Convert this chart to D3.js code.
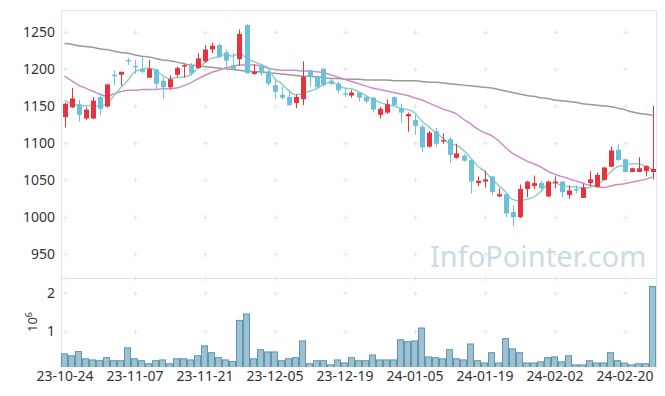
<!DOCTYPE html>
<html>
<head>
<meta charset="utf-8">
<script src="https://cdn.jsdelivr.net/npm/d3@7"></script>
<style>
  body { margin: 0; background: #fff; }
  text { font-family: "Noto Sans", "DejaVu Sans", sans-serif; }
</style>
</head>
<body>
<div id="chart"></div>
<script>
/* price data, one entry per trading day */
const opens  = [1135,1148,1152,1133,1133,1162,1149,1192,1192,1212,1204,1200,1188,1199,1184,1175,1192,1203,1204,1201,
                1210,1226,1232,1222,1205,1213,1259,1193,1203,1196,1178,1165,1162,1154,1159,1198,1190,1200,1184,1180,
                1167,1164,1168,1162,1161,1138,1141,1162,1147,1136,1131,1122,1095,1116,1102,1105,1080,1083,1077,1046,
                1048,1055,1028,1031,1007,1000,1038,1042,1046,1028,1046,1048,1030,1038,1026,1046,1041,1050,1068,1091,
                1078,1061,1061,1062,1061];
const highs  = [1154,1174,1158,1148,1162,1166,1179,1198,1196,1215,1212,1215,1212,1200,1188,1191,1203,1206,1208,1221,
                1232,1235,1234,1226,1221,1253,1260,1206,1207,1198,1187,1176,1172,1166,1210,1199,1191,1201,1186,1183,
                1174,1171,1169,1164,1162,1149,1159,1163,1153,1141,1138,1125,1116,1120,1113,1108,1099,1085,1078,1055,
                1063,1056,1039,1032,1016,1044,1049,1056,1049,1049,1055,1049,1043,1043,1045,1062,1060,1068,1095,1098,
                1079,1066,1081,1070,1150];
const lows   = [1121,1147,1129,1131,1132,1138,1148,1178,1177,1205,1193,1194,1188,1172,1160,1172,1189,1188,1191,1200,
                1208,1221,1215,1203,1198,1204,1194,1192,1191,1177,1160,1158,1150,1147,1151,1176,1174,1176,1178,1167,
                1162,1161,1156,1154,1141,1133,1139,1150,1128,1115,1111,1088,1094,1095,1099,1073,1079,1075,1032,1042,
                1040,1030,1027,1000, 988, 999,1027,1038,1034,1027,1039,1027,1025,1032,1026,1042,1040,1050,1068,1076,
                1060,1061,1061,1055,1051];
const closes = [1153,1160,1138,1145,1157,1146,1179,1190,1196,1210,1203,1196,1200,1180,1175,1186,1201,1205,1194,1214,
                1226,1231,1216,1211,1200,1247,1194,1196,1194,1180,1169,1161,1151,1162,1189,1189,1175,1178,1180,1171,
                1165,1168,1161,1156,1145,1146,1152,1151,1141,1139,1123,1094,1114,1099,1104,1084,1086,1076,1048,1049,
                1051,1034,1031,1005,1000,1038,1048,1046,1039,1048,1048,1034,1036,1037,1040,1051,1057,1067,1090,1077,
                1061,1066,1066,1069,1065];
/* volume in millions */
const volumes = [0.42,0.37,0.48,0.29,0.26,0.24,0.32,0.24,0.24,0.58,0.29,0.24,0.16,0.24,0.26,0.16,0.29,0.29,0.26,0.37,
                 0.63,0.45,0.32,0.26,0.22,1.30,1.47,0.29,0.53,0.47,0.47,0.24,0.29,0.32,0.76,0.16,0.24,0.24,0.13,0.26,
                 0.18,0.32,0.24,0.24,0.39,0.26,0.26,0.26,0.79,0.74,0.76,1.10,0.34,0.32,0.29,0.53,0.29,0.26,0.68,0.24,
                 0.18,0.45,0.18,0.82,0.55,0.45,0.18,0.18,0.21,0.32,0.34,0.21,0.37,0.13,0.13,0.24,0.18,0.18,0.45,0.24,
                 0.18,0.13,0.16,0.16,2.19];
/* moving averages as drawn */
const ma5  = [1157,1153,1151,1150,1151,1149,1153,1163,1174,1184,1196,1199,1201,1198,1191,1187,1188,1189,1192,1200,
              1208,1214,1216,1220,1217,1221,1214,1210,1206,1202,1187,1180,1171,1165,1166,1170,1173,1179,1182,1179,
              1174,1173,1169,1164,1159,1155,1152,1150,1147,1145,1141,1130,1122,1114,1107,1099,1097,1090,1080,1069,
              1062,1052,1043,1034,1024,1022,1024,1027,1034,1044,1046,1043,1041,1041,1039,1040,1044,1050,1061,1068,
              1070,1072,1072,1068,1065];
const ma20 = [1190,1184,1178,1174,1170,1166,1163,1166,1169,1171,1171,1172,1172,1172,1173,1173,1174,1177,1181,1186,
              1191,1195,1198,1201,1203,1205,1205,1205,1204,1201,1199,1198,1198,1198,1197,1197,1196,1195,1192,1189,
              1186,1183,1180,1177,1174,1172,1170,1168,1166,1164,1161,1158,1154,1150,1146,1143,1139,1132,1126,1119,
              1114,1110,1103,1094,1086,1081,1076,1072,1068,1062,1058,1055,1052,1049,1046,1043,1041,1040,1042,1044,
              1045,1047,1049,1051,1054];
const ma60 = [1234,1233,1231,1230,1229,1227,1226,1224,1222,1221,1219,1217,1216,1214,1212,1211,1209,1207,1205,1204,
              1203,1202,1201,1200,1199,1198,1197,1196,1196,1195,1194,1193,1192,1191,1190,1190,1189,1188,1187,1187,
              1186,1186,1186,1185,1185,1185,1185,1184,1184,1184,1184,1183,1182,1182,1181,1180,1179,1178,1177,1176,
              1175,1174,1172,1170,1168,1166,1164,1163,1161,1160,1158,1157,1156,1155,1153,1152,1151,1150,1149,1147,
              1145,1142,1140,1139,1137];

const dateLabels = ["23-10-24","23-11-07","23-11-21","23-12-05","23-12-19","24-01-05","24-01-19","24-02-02","24-02-20"];
const priceTicks = [950, 1000, 1050, 1100, 1150, 1200, 1250];
const volTicks = [1, 2];

const W = 665, H = 396;
const plotL = 61, plotR = 656, plotT = 10, plotSplit = 278, plotB = 367;

const svg = d3.select("#chart").append("svg")
    .attr("width", W).attr("height", H);

const n = closes.length;
const x = d3.scaleLinear().domain([-0.5, n - 0.5]).range([plotL, plotR]);
const y = d3.scaleLinear().domain([950, 1250]).range([254.3, 31.7]);
const yv = d3.scaleLinear().domain([0, 2]).range([369.3, 293.3]);
const tickIdx = dateLabels.map((d, i) => i * 10);

// clip paths
const defs = svg.append("defs");
defs.append("clipPath").attr("id", "clipMain").append("rect")
    .attr("x", plotL).attr("y", plotT).attr("width", plotR - plotL).attr("height", plotSplit - plotT);
defs.append("clipPath").attr("id", "clipVol").append("rect")
    .attr("x", plotL).attr("y", plotSplit).attr("width", plotR - plotL).attr("height", plotB - plotSplit);

// watermark
svg.append("text")
    .attr("x", 430).attr("y", 267)
    .style("font-size", "29px")
    .style("fill", "#c9dce6")
    .text("InfoPointer.com");

// plus-sign grid
const plus = svg.append("g").attr("stroke", "#e6e6e6").attr("stroke-width", 1);
const crossAt = (cx, cy) => {
  plus.append("line").attr("x1", cx - 2.5).attr("x2", cx + 2.5).attr("y1", cy).attr("y2", cy);
  plus.append("line").attr("x1", cx).attr("x2", cx).attr("y1", cy - 2.5).attr("y2", cy + 2.5);
};
tickIdx.forEach(t => {
  priceTicks.forEach(p => crossAt(Math.round(x(t)) + 0.5, Math.round(y(p)) + 0.5));
  volTicks.forEach(v => crossAt(Math.round(x(t)) + 0.5, Math.round(yv(v)) + 0.5));
  crossAt(Math.round(x(t)) + 0.5, plotSplit + 0.5);
});

// frame
const frame = svg.append("g").attr("stroke", "#e3e3e3").attr("fill", "none");
frame.append("line").attr("x1", plotL).attr("x2", plotR + 1).attr("y1", plotT + 0.5).attr("y2", plotT + 0.5);
frame.append("line").attr("x1", plotL).attr("x2", plotR + 1).attr("y1", plotSplit + 0.5).attr("y2", plotSplit + 0.5);
frame.append("line").attr("x1", plotL + 0.5).attr("x2", plotL + 0.5).attr("y1", plotT).attr("y2", plotB);
frame.append("line").attr("x1", plotR + 0.5).attr("x2", plotR + 0.5).attr("y1", plotT).attr("y2", plotB);

// volume bars
svg.append("g").attr("clip-path", "url(#clipVol)")
  .selectAll("rect").data(volumes).enter().append("rect")
    .attr("x", (d, i) => x(i - 0.5) + 0.5)
    .attr("width", x(1) - x(0) - 1)
    .attr("y", d => yv(d) + 0.5)
    .attr("height", d => yv(0) - yv(d))
    .attr("fill", "#9cc2d2")
    .attr("stroke", "#5f97b0")
    .attr("stroke-width", 1);

// moving averages
const lineGen = d3.line().x((d, i) => x(i)).y(d => y(d)).curve(d3.curveMonotoneX);
const maG = svg.append("g").attr("clip-path", "url(#clipMain)").attr("fill", "none");
maG.append("path").attr("d", lineGen(ma60)).attr("stroke", "#999").attr("stroke-width", 1.5);
maG.append("path").attr("d", lineGen(ma20)).attr("stroke", "#cc8cc8").attr("stroke-width", 1.5);
maG.append("path").attr("d", lineGen(ma5)).attr("stroke", "#8fd0c6").attr("stroke-width", 1.5);

// candles
const candles = svg.append("g").attr("clip-path", "url(#clipMain)")
  .selectAll("g").data(closes).enter().append("g");
const colorOf = i => closes[i] >= opens[i] ? "#e8333c" : "#6cc0da";
candles.append("line")
    .attr("x1", (d, i) => Math.round(x(i)) + 0.5)
    .attr("x2", (d, i) => Math.round(x(i)) + 0.5)
    .attr("y1", (d, i) => y(highs[i]))
    .attr("y2", (d, i) => y(lows[i]))
    .attr("stroke", (d, i) => colorOf(i))
    .attr("stroke-width", 1);
candles.append("rect")
    .attr("x", (d, i) => Math.round(x(i)) - 2)
    .attr("width", 5)
    .attr("y", (d, i) => y(Math.max(opens[i], closes[i])))
    .attr("height", (d, i) => Math.max(1.5, Math.abs(y(opens[i]) - y(closes[i]))))
    .attr("fill", (d, i) => colorOf(i));

// axes
const axisStyle = g => {
  g.select(".domain").remove();
  g.selectAll(".tick line").remove();
  g.selectAll("text").style("font-size", "14px").style("fill", "#333");
};
svg.append("g").attr("transform", `translate(${plotL - 6},0)`)
  .call(d3.axisLeft(y).tickValues(priceTicks).tickSize(0).tickPadding(0).tickFormat(d3.format("d")))
  .call(axisStyle);
svg.append("g").attr("transform", `translate(${plotL - 6},0)`)
  .call(d3.axisLeft(yv).tickValues(volTicks).tickSize(0).tickPadding(0).tickFormat(d3.format("d")))
  .call(axisStyle);
svg.append("g").attr("transform", `translate(0,${plotB + 1})`)
  .call(d3.axisBottom(x).tickValues(tickIdx).tickSize(0).tickPadding(3)
        .tickFormat((d, i) => dateLabels[i]))
  .call(axisStyle);

// volume unit label
const unit = svg.append("text")
    .attr("transform", "translate(37,322) rotate(-90)")
    .attr("text-anchor", "middle")
    .style("font-size", "13px").style("fill", "#333");
unit.append("tspan").text("10");
unit.append("tspan").attr("dy", -5).style("font-size", "9px").text("6");
</script>
</body>
</html>
